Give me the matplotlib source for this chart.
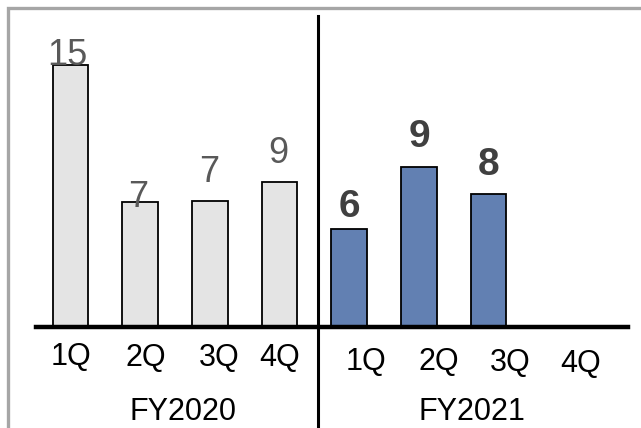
import matplotlib.pyplot as plt
from matplotlib.patches import Rectangle
from matplotlib.lines import Line2D

plt.rcParams['font.family'] = ['Liberation Sans', 'DejaVu Sans']

# data
quarters = ['1Q', '2Q', '3Q', '4Q']
years = ['FY2020', 'FY2021']
fy2020_vals = [15.0, 7.14, 7.21, 8.3]
fy2020_labels = ['15', '7', '7', '9']
fy2021_vals = [5.59, 9.14, 7.61]
fy2021_labels = ['6', '9', '8']

W, H = 641, 428
fig = plt.figure(figsize=(W / 100, H / 100), dpi=100)

# axes placed so one slot = ~69.7 px, baseline at y=327 px
left, right = 35.6, 628.0
base, top = 327.0, 16.0
ax = fig.add_axes([left / W, 1 - base / H, (right - left) / W, (base - top) / H])
ax.set_xlim(-0.5, 8.0)
ax.set_ylim(0, (base - top) / 17.47)
ax.axis('off')

x20 = list(range(len(fy2020_vals)))
x21 = [4 + i for i in range(len(fy2021_vals))]

ax.bar(x20, fy2020_vals, width=0.51, color='#e4e4e4', edgecolor='black', linewidth=1.3)
ax.bar(x21, fy2021_vals, width=0.51, color='#6280b2', edgecolor='black', linewidth=1.3)

# baseline and divider
ax.axhline(0, color='black', lw=3.2, clip_on=False)
ax.add_line(Line2D([3.555, 3.555], [-0.4, 1.0], transform=ax.get_xaxis_transform(),
                   color='black', lw=2.2, clip_on=False))

# value labels (offsets in pixels from bar top centre)
off20 = [(-3, 0), (-2, -5), (-1, 19), (-1, 19)]
for x, v, s, o in zip(x20, fy2020_vals, fy2020_labels, off20):
    ax.annotate(s, (x, v), xytext=o, textcoords='offset pixels', ha='center',
                va='baseline', fontsize=26, color='#595959', annotation_clip=False)
off21 = [(0, 12), (1, 20), (0, 19)]
for x, v, s, o in zip(x21, fy2021_vals, fy2021_labels, off21):
    ax.annotate(s, (x, v), xytext=o, textcoords='offset pixels', ha='center',
                va='baseline', fontsize=28, fontweight='bold', color='#404040',
                annotation_clip=False)

# quarter labels under the baseline
q_dx = [0.5, 5.7, 9.8, 0.2, 16.5, 19.7, 22.0, 22.8]
q_base = [365, 366, 366, 366, 370, 370, 371, 372]
for i in range(8):
    ax.annotate(quarters[i % 4], (i, 0), xytext=(q_dx[i], base - q_base[i]),
                textcoords='offset pixels', ha='center', va='baseline',
                fontsize=22, color='black', annotation_clip=False)

# year labels
for yr, cx in zip(years, [183, 472]):
    fig.text(cx / W, 1 - 420 / H, yr, ha='center', va='baseline', fontsize=22, color='black')

# grey frame around the picture
fig.patches.append(Rectangle((7.5 / W, -0.2), 1.2, 1.2 - 7.5 / H, transform=fig.transFigure,
                             fill=False, edgecolor='#a6a6a6', lw=2.4, clip_on=False))

fig.savefig('out.png', dpi=100)
